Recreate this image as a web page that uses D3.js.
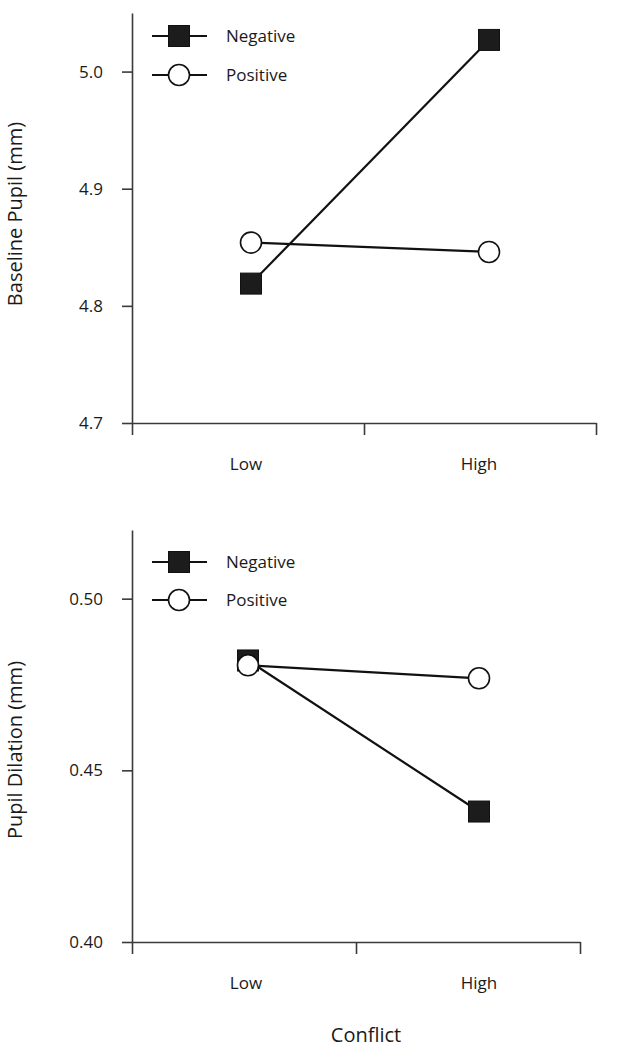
<!DOCTYPE html>
<html>
<head>
<meta charset="utf-8">
<script src="https://cdn.jsdelivr.net/npm/d3@7"></script>
<style>
  html, body { margin: 0; padding: 0; background: #fff; }
  svg { display: block; }
  text { font-family: "Open Sans", "Noto Sans", sans-serif; fill: #1a1a1a; }
</style>
</head>
<body>
<svg id="chart" width="619" height="1050"></svg>
<script>
// ---- data ----
const categories = ["Low", "High"];
const seriesNames = ["Negative", "Positive"];
const baselineNegative = [4.819, 5.027];
const baselinePositive = [4.854, 4.846];
const dilationNegative = [0.482, 0.438];
const dilationPositive = [0.4806, 0.4768];
const baselineTicks = [4.7, 4.8, 4.9, 5.0];
const dilationTicks = [0.40, 0.45, 0.50];
const xAxisTitle = "Conflict";
const baselineTitle = "Baseline Pupil (mm)";
const dilationTitle = "Pupil Dilation (mm)";

const svg = d3.select("#chart");
const axisColor = "#3a3a3a";

function panel(cfg) {
  const g = svg.append("g");
  const y = d3.scaleLinear().domain(cfg.yDomain).range([cfg.bottom, cfg.top]);
  const xAxisScale = d3.scaleLinear().domain([0, categories.length]).range([cfg.left, cfg.right]);
  const xLabel = d3.scalePoint().domain(categories).range([246, 479]);
  const xMark = d3.scalePoint().domain(categories).range(cfg.markRange);

  // y axis
  const ya = g.append("g").attr("transform", `translate(${cfg.left},0)`)
    .call(d3.axisLeft(y).tickValues(cfg.ticks).tickFormat(d3.format(cfg.fmt))
      .tickSizeInner(10).tickSizeOuter(0).tickPadding(19));
  ya.select(".domain").attr("stroke", axisColor).attr("stroke-width", 1.6);
  ya.selectAll(".tick line").attr("stroke", axisColor).attr("stroke-width", 1.6);
  ya.selectAll(".tick text").attr("font-size", 17).attr("font-family", "Open Sans").attr("fill", "#1a1a1a");

  // x axis
  const xa = g.append("g").attr("transform", `translate(0,${cfg.bottom})`)
    .call(d3.axisBottom(xAxisScale).tickValues(d3.range(categories.length + 1))
      .tickFormat("").tickSizeInner(12).tickSizeOuter(0));
  xa.select(".domain").attr("stroke", axisColor).attr("stroke-width", 1.6);
  xa.selectAll(".tick line").attr("stroke", axisColor).attr("stroke-width", 1.6);

  g.selectAll(".xlab").data(categories).join("text")
    .attr("class", "xlab")
    .attr("x", d => xLabel(d))
    .attr("y", cfg.bottom + 47)
    .attr("text-anchor", "middle")
    .attr("font-size", 17)
    .text(d => d);

  // y title
  g.append("text")
    .attr("transform", `translate(22,${cfg.titleY}) rotate(-90)`)
    .attr("text-anchor", "middle")
    .attr("font-size", 20)
    .text(cfg.title);

  const line = d3.line().x((d, i) => xMark(categories[i])).y(d => y(d));

  // lines
  [cfg.pos, cfg.neg].forEach(vals => {
    g.append("path").datum(vals).attr("d", line)
      .attr("fill", "none").attr("stroke", "#111").attr("stroke-width", 2.2);
  });

  // markers: negative squares first, positive circles on top
  const sq = 21;
  g.selectAll(".neg").data(cfg.neg).join("rect")
    .attr("class", "neg")
    .attr("x", (d, i) => xMark(categories[i]) - sq / 2)
    .attr("y", d => y(d) - sq / 2)
    .attr("width", sq).attr("height", sq)
    .attr("fill", "#1c1c1c").attr("stroke", "#111").attr("stroke-width", 1);
  g.selectAll(".pos").data(cfg.pos).join("circle")
    .attr("class", "pos")
    .attr("cx", (d, i) => xMark(categories[i]))
    .attr("cy", d => y(d))
    .attr("r", 10.5)
    .attr("fill", "#fff").attr("stroke", "#111").attr("stroke-width", 1.6);

  // legend
  const leg = g.append("g");
  seriesNames.forEach((name, i) => {
    const ly = cfg.legendY[i];
    leg.append("line").attr("x1", 152).attr("x2", 207).attr("y1", ly).attr("y2", ly)
      .attr("stroke", "#111").attr("stroke-width", 2.2);
    if (i === 0) {
      leg.append("rect").attr("x", 179 - sq / 2).attr("y", ly - sq / 2)
        .attr("width", sq).attr("height", sq)
        .attr("fill", "#1c1c1c").attr("stroke", "#111").attr("stroke-width", 1);
    } else {
      leg.append("circle").attr("cx", 179).attr("cy", ly).attr("r", 10.5)
        .attr("fill", "#fff").attr("stroke", "#111").attr("stroke-width", 1.6);
    }
    leg.append("text").attr("x", 226).attr("y", ly).attr("dy", "0.35em")
      .attr("font-size", 17).text(name);
  });
}

panel({
  yDomain: [4.7, 5.05], top: 13, bottom: 423, left: 132, right: 596,
  ticks: baselineTicks, fmt: ".1f", title: baselineTitle, titleY: 214,
  neg: baselineNegative, pos: baselinePositive,
  markRange: [251, 489], legendY: [36, 75]
});

panel({
  yDomain: [0.40, 0.52], top: 530, bottom: 942, left: 132, right: 580,
  ticks: dilationTicks, fmt: ".2f", title: dilationTitle, titleY: 750,
  neg: dilationNegative, pos: dilationPositive,
  markRange: [248, 479], legendY: [562, 600]
});

svg.append("text")
  .attr("x", 366).attr("y", 1042)
  .attr("text-anchor", "middle")
  .attr("font-size", 20)
  .text(xAxisTitle);
</script>
</body>
</html>
